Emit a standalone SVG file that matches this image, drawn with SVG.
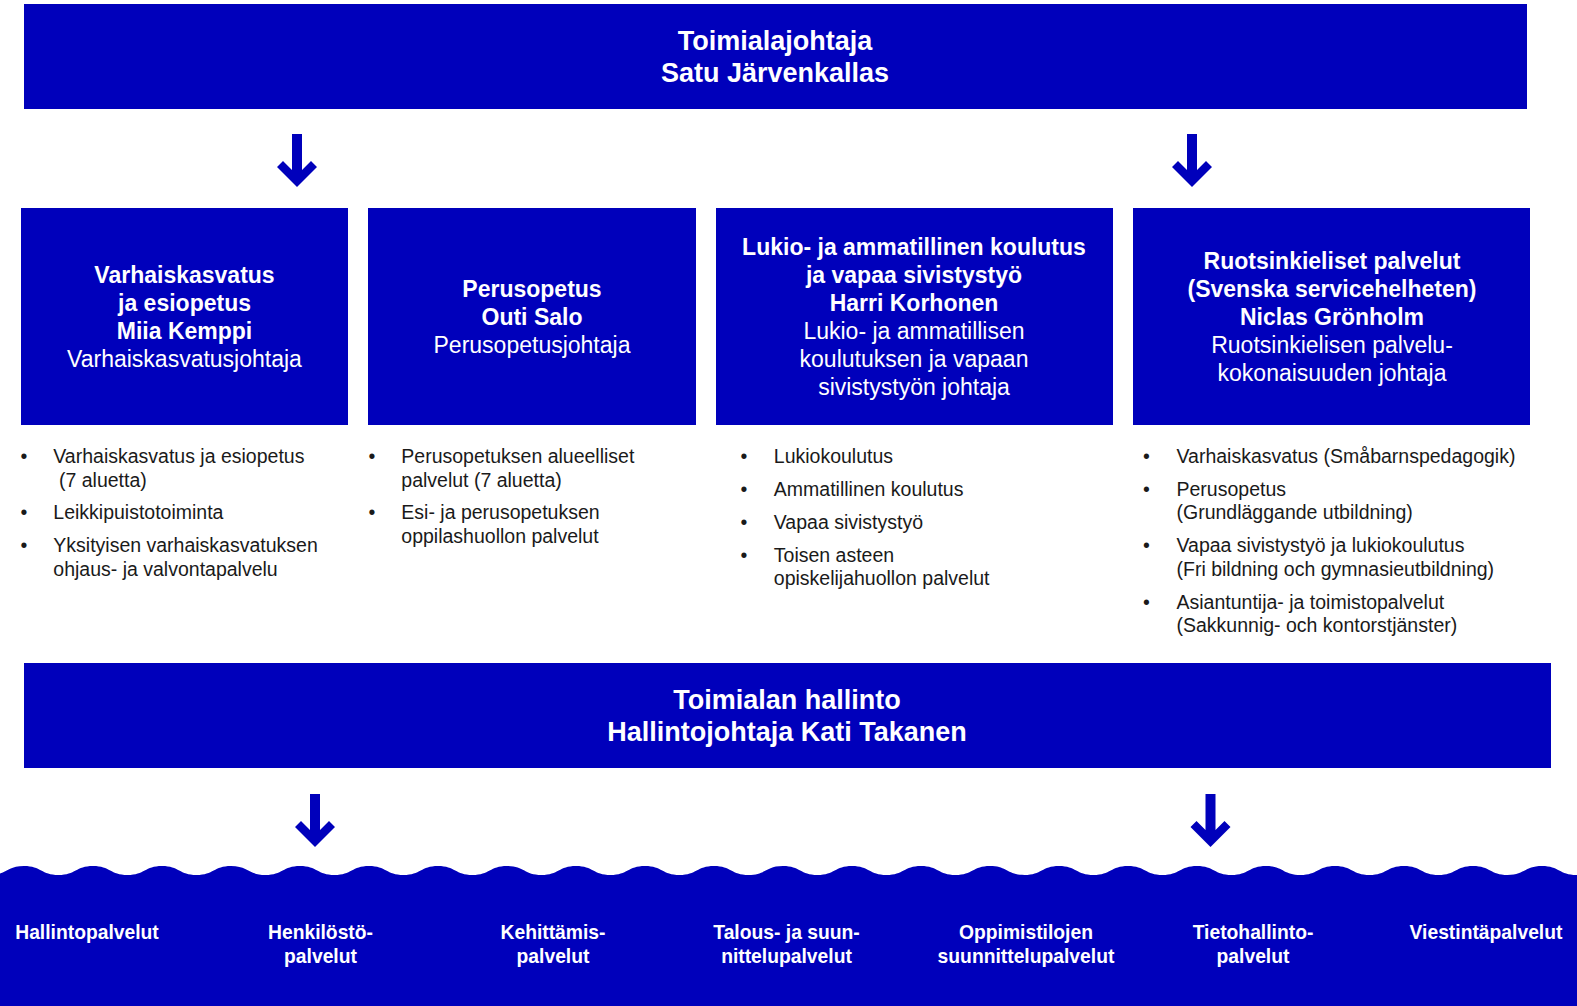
<svg xmlns="http://www.w3.org/2000/svg" xmlns:xlink="http://www.w3.org/1999/xlink" width="1577" height="1006" viewBox="0 0 1577 1006">
  <style>
    .box { fill: #0000BB; }
    .hb { font-family: "Liberation Sans", Arial, sans-serif; font-weight: bold; font-size: 27px; fill: #ffffff; text-anchor: middle; }
    .nb { font-family: "Liberation Sans", Arial, sans-serif; font-weight: bold; font-size: 23px; fill: #ffffff; text-anchor: middle; }
    .nr { font-family: "Liberation Sans", Arial, sans-serif; font-size: 23px; fill: #ffffff; text-anchor: middle; }
    .li { font-family: "Liberation Sans", Arial, sans-serif; font-size: 19.5px; fill: #1a1a1a; }
    .bu { font-family: "Liberation Sans", Arial, sans-serif; font-size: 19.5px; fill: #1a1a1a; text-anchor: middle; }
    .sv { font-family: "Liberation Sans", Arial, sans-serif; font-weight: bold; font-size: 19.3px; fill: #ffffff; text-anchor: middle; }
    .arrow { fill: #0000BB; }
  </style>
  <defs>
    <path id="arr" d="M-5,0 L5,0 L5,36 L14,27 L20,33 L0,53 L-20,33 L-14,27 L-5,36 Z"/>
  </defs>
  <rect width="1577" height="1006" fill="#ffffff"/>

  <g id="top">
    <rect class="box" x="24" y="4" width="1503" height="105"/>
    <text class="hb" x="775" y="50">Toimialajohtaja</text>
    <text class="hb" x="775" y="82">Satu Järvenkallas</text>
  </g>

  <g id="connectors">
    <use class="arrow" xlink:href="#arr" href="#arr" x="297" y="134"/>
    <use class="arrow" xlink:href="#arr" href="#arr" x="1192" y="134"/>
    <use class="arrow" xlink:href="#arr" href="#arr" x="315" y="794"/>
    <use class="arrow" xlink:href="#arr" href="#arr" x="1210.5" y="794"/>
  </g>

  <g id="varhaiskasvatus">
    <rect class="box" x="21" y="208" width="327" height="217"/>
    <text class="nb" x="184.5" y="282.5">Varhaiskasvatus</text>
    <text class="nb" x="184.5" y="310.5">ja esiopetus</text>
    <text class="nb" x="184.5" y="338.5">Miia Kemppi</text>
    <text class="nr" x="184.5" y="366.5">Varhaiskasvatusjohtaja</text>
  </g>

  <g id="perusopetus">
    <rect class="box" x="368" y="208" width="328" height="217"/>
    <text class="nb" x="532" y="296.5">Perusopetus</text>
    <text class="nb" x="532" y="324.5">Outi Salo</text>
    <text class="nr" x="532" y="352.5">Perusopetusjohtaja</text>
  </g>

  <g id="lukio">
    <rect class="box" x="716" y="208" width="397" height="217"/>
    <text class="nb" x="914" y="254.5">Lukio- ja ammatillinen koulutus</text>
    <text class="nb" x="914" y="282.5">ja vapaa sivistystyö</text>
    <text class="nb" x="914" y="310.5">Harri Korhonen</text>
    <text class="nr" x="914" y="338.5">Lukio- ja ammatillisen</text>
    <text class="nr" x="914" y="366.5">koulutuksen ja vapaan</text>
    <text class="nr" x="914" y="394.5">sivistystyön johtaja</text>
  </g>

  <g id="ruotsinkieliset">
    <rect class="box" x="1133" y="208" width="397" height="217"/>
    <text class="nb" x="1332" y="268.5">Ruotsinkieliset palvelut</text>
    <text class="nb" x="1332" y="296.5">(Svenska servicehelheten)</text>
    <text class="nb" x="1332" y="324.5">Niclas Grönholm</text>
    <text class="nr" x="1332" y="352.5">Ruotsinkielisen palvelu-</text>
    <text class="nr" x="1332" y="380.5">kokonaisuuden johtaja</text>
  </g>

  <g id="list1">
    <text class="bu" x="24" y="463">•</text>
    <text class="li" x="53.3" y="463">Varhaiskasvatus ja esiopetus</text>
    <text class="li" x="59" y="486.5">(7 aluetta)</text>
    <text class="bu" x="24" y="519">•</text>
    <text class="li" x="53.3" y="519">Leikkipuistotoiminta</text>
    <text class="bu" x="24" y="552">•</text>
    <text class="li" x="53.3" y="552">Yksityisen varhaiskasvatuksen</text>
    <text class="li" x="53.3" y="575.5">ohjaus- ja valvontapalvelu</text>
  </g>

  <g id="list2">
    <text class="bu" x="372" y="463">•</text>
    <text class="li" x="401.3" y="463">Perusopetuksen alueelliset</text>
    <text class="li" x="401.3" y="486.5">palvelut (7 aluetta)</text>
    <text class="bu" x="372" y="519">•</text>
    <text class="li" x="401.3" y="519">Esi- ja perusopetuksen</text>
    <text class="li" x="401.3" y="542.5">oppilashuollon palvelut</text>
  </g>

  <g id="list3">
    <text class="bu" x="744" y="462.5">•</text>
    <text class="li" x="773.8" y="462.5">Lukiokoulutus</text>
    <text class="bu" x="744" y="495.5">•</text>
    <text class="li" x="773.8" y="495.5">Ammatillinen koulutus</text>
    <text class="bu" x="744" y="528.5">•</text>
    <text class="li" x="773.8" y="528.5">Vapaa sivistystyö</text>
    <text class="bu" x="744" y="561.8">•</text>
    <text class="li" x="773.8" y="561.8">Toisen asteen</text>
    <text class="li" x="773.8" y="585.3">opiskelijahuollon palvelut</text>
  </g>

  <g id="list4">
    <text class="bu" x="1146.5" y="463">•</text>
    <text class="li" x="1176.5" y="463">Varhaiskasvatus (Småbarnspedagogik)</text>
    <text class="bu" x="1146.5" y="496">•</text>
    <text class="li" x="1176.5" y="496">Perusopetus</text>
    <text class="li" x="1176.5" y="519.3">(Grundläggande utbildning)</text>
    <text class="bu" x="1146.5" y="552">•</text>
    <text class="li" x="1176.5" y="552">Vapaa sivistystyö ja lukiokoulutus</text>
    <text class="li" x="1176.5" y="575.5">(Fri bildning och gymnasieutbildning)</text>
    <text class="bu" x="1146.5" y="608.5">•</text>
    <text class="li" x="1176.5" y="608.5">Asiantuntija- ja toimistopalvelut</text>
    <text class="li" x="1176.5" y="632">(Sakkunnig- och kontorstjänster)</text>
  </g>

  <g id="hallinto">
    <rect class="box" x="24" y="663" width="1527" height="105"/>
    <text class="hb" x="787" y="709">Toimialan hallinto</text>
    <text class="hb" x="787" y="741">Hallintojohtaja Kati Takanen</text>
  </g>

  <g id="palvelut">
    <path class="box" d="M-45,866 c17.25,0 17.25,9 34.5,9 c17.25,0 17.25,-9 34.5,-9 c17.25,0 17.25,9 34.5,9 c17.25,0 17.25,-9 34.5,-9 c17.25,0 17.25,9 34.5,9 c17.25,0 17.25,-9 34.5,-9 c17.25,0 17.25,9 34.5,9 c17.25,0 17.25,-9 34.5,-9 c17.25,0 17.25,9 34.5,9 c17.25,0 17.25,-9 34.5,-9 c17.25,0 17.25,9 34.5,9 c17.25,0 17.25,-9 34.5,-9 c17.25,0 17.25,9 34.5,9 c17.25,0 17.25,-9 34.5,-9 c17.25,0 17.25,9 34.5,9 c17.25,0 17.25,-9 34.5,-9 c17.25,0 17.25,9 34.5,9 c17.25,0 17.25,-9 34.5,-9 c17.25,0 17.25,9 34.5,9 c17.25,0 17.25,-9 34.5,-9 c17.25,0 17.25,9 34.5,9 c17.25,0 17.25,-9 34.5,-9 c17.25,0 17.25,9 34.5,9 c17.25,0 17.25,-9 34.5,-9 c17.25,0 17.25,9 34.5,9 c17.25,0 17.25,-9 34.5,-9 c17.25,0 17.25,9 34.5,9 c17.25,0 17.25,-9 34.5,-9 c17.25,0 17.25,9 34.5,9 c17.25,0 17.25,-9 34.5,-9 c17.25,0 17.25,9 34.5,9 c17.25,0 17.25,-9 34.5,-9 c17.25,0 17.25,9 34.5,9 c17.25,0 17.25,-9 34.5,-9 c17.25,0 17.25,9 34.5,9 c17.25,0 17.25,-9 34.5,-9 c17.25,0 17.25,9 34.5,9 c17.25,0 17.25,-9 34.5,-9 c17.25,0 17.25,9 34.5,9 c17.25,0 17.25,-9 34.5,-9 c17.25,0 17.25,9 34.5,9 c17.25,0 17.25,-9 34.5,-9 c17.25,0 17.25,9 34.5,9 c17.25,0 17.25,-9 34.5,-9 c17.25,0 17.25,9 34.5,9 c17.25,0 17.25,-9 34.5,-9 c17.25,0 17.25,9 34.5,9 c17.25,0 17.25,-9 34.5,-9 L1611,1006 L-45,1006 Z"/>
    <text class="sv" x="87" y="939">Hallintopalvelut</text>
    <text class="sv" x="320.5" y="939">Henkilöstö-</text>
    <text class="sv" x="320.5" y="962.5">palvelut</text>
    <text class="sv" x="553" y="939">Kehittämis-</text>
    <text class="sv" x="553" y="962.5">palvelut</text>
    <text class="sv" x="786.5" y="939">Talous- ja suun-</text>
    <text class="sv" x="786.5" y="962.5">nittelupalvelut</text>
    <text class="sv" x="1026" y="939">Oppimistilojen</text>
    <text class="sv" x="1026" y="962.5">suunnittelupalvelut</text>
    <text class="sv" x="1253" y="939">Tietohallinto-</text>
    <text class="sv" x="1253" y="962.5">palvelut</text>
    <text class="sv" x="1486" y="939">Viestintäpalvelut</text>
  </g>
</svg>
